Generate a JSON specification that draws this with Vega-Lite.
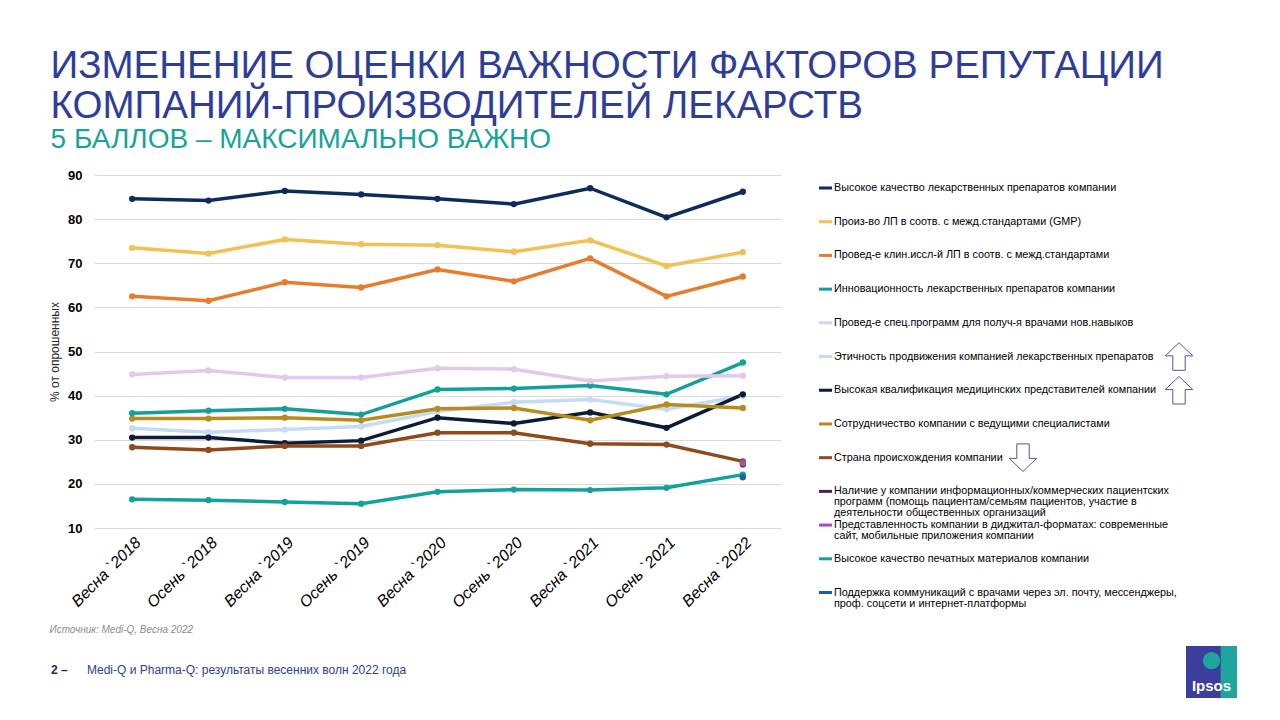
{
  "$schema": "https://vega.github.io/schema/vega-lite/v6.json",
  "background": "white",
  "padding": {"left": 48, "top": 47, "right": 0, "bottom": 0},
  "config": {"view": {"stroke": null}, "font": "Liberation Sans"},
  "title": {
    "text": ["ИЗМЕНЕНИЕ ОЦЕНКИ ВАЖНОСТИ ФАКТОРОВ РЕПУТАЦИИ", "КОМПАНИЙ-ПРОИЗВОДИТЕЛЕЙ ЛЕКАРСТВ"],
    "subtitle": "5 БАЛЛОВ – МАКСИМАЛЬНО ВАЖНО",
    "anchor": "start",
    "dx": 2,
    "font": "Liberation Sans",
    "fontSize": 38.5,
    "fontWeight": "normal",
    "color": "#2E3D98",
    "lineHeight": 39.5,
    "subtitleFont": "Liberation Sans",
    "subtitleFontSize": 28,
    "subtitleColor": "#17A398",
    "subtitlePadding": 0,
    "offset": 14
  },
  "datasets": {
    "points": [
      {"series": "Высокое качество лекарственных препаратов компании", "wave": "Весна `2018", "value": 84.6},
      {"series": "Высокое качество лекарственных препаратов компании", "wave": "Осень `2018", "value": 84.2},
      {"series": "Высокое качество лекарственных препаратов компании", "wave": "Весна `2019", "value": 86.4},
      {"series": "Высокое качество лекарственных препаратов компании", "wave": "Осень `2019", "value": 85.6},
      {"series": "Высокое качество лекарственных препаратов компании", "wave": "Весна `2020", "value": 84.6},
      {"series": "Высокое качество лекарственных препаратов компании", "wave": "Осень `2020", "value": 83.4},
      {"series": "Высокое качество лекарственных препаратов компании", "wave": "Весна `2021", "value": 87.0},
      {"series": "Высокое качество лекарственных препаратов компании", "wave": "Осень `2021", "value": 80.4},
      {"series": "Высокое качество лекарственных препаратов компании", "wave": "Весна `2022", "value": 86.2},
      {"series": "Произ-во ЛП в соотв. с межд.стандартами (GMP)", "wave": "Весна `2018", "value": 73.5},
      {"series": "Произ-во ЛП в соотв. с межд.стандартами (GMP)", "wave": "Осень `2018", "value": 72.2},
      {"series": "Произ-во ЛП в соотв. с межд.стандартами (GMP)", "wave": "Весна `2019", "value": 75.4},
      {"series": "Произ-во ЛП в соотв. с межд.стандартами (GMP)", "wave": "Осень `2019", "value": 74.3},
      {"series": "Произ-во ЛП в соотв. с межд.стандартами (GMP)", "wave": "Весна `2020", "value": 74.1},
      {"series": "Произ-во ЛП в соотв. с межд.стандартами (GMP)", "wave": "Осень `2020", "value": 72.6},
      {"series": "Произ-во ЛП в соотв. с межд.стандартами (GMP)", "wave": "Весна `2021", "value": 75.2},
      {"series": "Произ-во ЛП в соотв. с межд.стандартами (GMP)", "wave": "Осень `2021", "value": 69.4},
      {"series": "Произ-во ЛП в соотв. с межд.стандартами (GMP)", "wave": "Весна `2022", "value": 72.5},
      {"series": "Провед-е клин.иссл-й ЛП в соотв. с межд.стандартами", "wave": "Весна `2018", "value": 62.5},
      {"series": "Провед-е клин.иссл-й ЛП в соотв. с межд.стандартами", "wave": "Осень `2018", "value": 61.5},
      {"series": "Провед-е клин.иссл-й ЛП в соотв. с межд.стандартами", "wave": "Весна `2019", "value": 65.7},
      {"series": "Провед-е клин.иссл-й ЛП в соотв. с межд.стандартами", "wave": "Осень `2019", "value": 64.5},
      {"series": "Провед-е клин.иссл-й ЛП в соотв. с межд.стандартами", "wave": "Весна `2020", "value": 68.6},
      {"series": "Провед-е клин.иссл-й ЛП в соотв. с межд.стандартами", "wave": "Осень `2020", "value": 65.9},
      {"series": "Провед-е клин.иссл-й ЛП в соотв. с межд.стандартами", "wave": "Весна `2021", "value": 71.1},
      {"series": "Провед-е клин.иссл-й ЛП в соотв. с межд.стандартами", "wave": "Осень `2021", "value": 62.5},
      {"series": "Провед-е клин.иссл-й ЛП в соотв. с межд.стандартами", "wave": "Весна `2022", "value": 67.0},
      {"series": "Инновационность лекарственных препаратов компании", "wave": "Весна `2018", "value": 36.0},
      {"series": "Инновационность лекарственных препаратов компании", "wave": "Осень `2018", "value": 36.6},
      {"series": "Инновационность лекарственных препаратов компании", "wave": "Весна `2019", "value": 37.0},
      {"series": "Инновационность лекарственных препаратов компании", "wave": "Осень `2019", "value": 35.7},
      {"series": "Инновационность лекарственных препаратов компании", "wave": "Весна `2020", "value": 41.4},
      {"series": "Инновационность лекарственных препаратов компании", "wave": "Осень `2020", "value": 41.6},
      {"series": "Инновационность лекарственных препаратов компании", "wave": "Весна `2021", "value": 42.3},
      {"series": "Инновационность лекарственных препаратов компании", "wave": "Осень `2021", "value": 40.3},
      {"series": "Инновационность лекарственных препаратов компании", "wave": "Весна `2022", "value": 47.5},
      {"series": "Провед-е спец.программ для получ-я врачами нов.навыков", "wave": "Весна `2018", "value": 44.8},
      {"series": "Провед-е спец.программ для получ-я врачами нов.навыков", "wave": "Осень `2018", "value": 45.7},
      {"series": "Провед-е спец.программ для получ-я врачами нов.навыков", "wave": "Весна `2019", "value": 44.1},
      {"series": "Провед-е спец.программ для получ-я врачами нов.навыков", "wave": "Осень `2019", "value": 44.1},
      {"series": "Провед-е спец.программ для получ-я врачами нов.навыков", "wave": "Весна `2020", "value": 46.2},
      {"series": "Провед-е спец.программ для получ-я врачами нов.навыков", "wave": "Осень `2020", "value": 46.0},
      {"series": "Провед-е спец.программ для получ-я врачами нов.навыков", "wave": "Весна `2021", "value": 43.3},
      {"series": "Провед-е спец.программ для получ-я врачами нов.навыков", "wave": "Осень `2021", "value": 44.4},
      {"series": "Провед-е спец.программ для получ-я врачами нов.навыков", "wave": "Весна `2022", "value": 44.5},
      {"series": "Этичность продвижения компанией лекарственных препаратов", "wave": "Весна `2018", "value": 32.6},
      {"series": "Этичность продвижения компанией лекарственных препаратов", "wave": "Осень `2018", "value": 31.7},
      {"series": "Этичность продвижения компанией лекарственных препаратов", "wave": "Весна `2019", "value": 32.3},
      {"series": "Этичность продвижения компанией лекарственных препаратов", "wave": "Осень `2019", "value": 33.0},
      {"series": "Этичность продвижения компанией лекарственных препаратов", "wave": "Весна `2020", "value": 36.4},
      {"series": "Этичность продвижения компанией лекарственных препаратов", "wave": "Осень `2020", "value": 38.5},
      {"series": "Этичность продвижения компанией лекарственных препаратов", "wave": "Весна `2021", "value": 39.1},
      {"series": "Этичность продвижения компанией лекарственных препаратов", "wave": "Осень `2021", "value": 36.9},
      {"series": "Этичность продвижения компанией лекарственных препаратов", "wave": "Весна `2022", "value": 39.9},
      {"series": "Высокая квалификация медицинских представителей компании", "wave": "Весна `2018", "value": 30.5},
      {"series": "Высокая квалификация медицинских представителей компании", "wave": "Осень `2018", "value": 30.5},
      {"series": "Высокая квалификация медицинских представителей компании", "wave": "Весна `2019", "value": 29.2},
      {"series": "Высокая квалификация медицинских представителей компании", "wave": "Осень `2019", "value": 29.8},
      {"series": "Высокая квалификация медицинских представителей компании", "wave": "Весна `2020", "value": 35.0},
      {"series": "Высокая квалификация медицинских представителей компании", "wave": "Осень `2020", "value": 33.7},
      {"series": "Высокая квалификация медицинских представителей компании", "wave": "Весна `2021", "value": 36.2},
      {"series": "Высокая квалификация медицинских представителей компании", "wave": "Осень `2021", "value": 32.7},
      {"series": "Высокая квалификация медицинских представителей компании", "wave": "Весна `2022", "value": 40.3},
      {"series": "Сотрудничество компании с ведущими специалистами", "wave": "Весна `2018", "value": 34.8},
      {"series": "Сотрудничество компании с ведущими специалистами", "wave": "Осень `2018", "value": 34.8},
      {"series": "Сотрудничество компании с ведущими специалистами", "wave": "Весна `2019", "value": 35.0},
      {"series": "Сотрудничество компании с ведущими специалистами", "wave": "Осень `2019", "value": 34.4},
      {"series": "Сотрудничество компании с ведущими специалистами", "wave": "Весна `2020", "value": 37.0},
      {"series": "Сотрудничество компании с ведущими специалистами", "wave": "Осень `2020", "value": 37.2},
      {"series": "Сотрудничество компании с ведущими специалистами", "wave": "Весна `2021", "value": 34.4},
      {"series": "Сотрудничество компании с ведущими специалистами", "wave": "Осень `2021", "value": 38.0},
      {"series": "Сотрудничество компании с ведущими специалистами", "wave": "Весна `2022", "value": 37.2},
      {"series": "Страна происхождения компании", "wave": "Весна `2018", "value": 28.3},
      {"series": "Страна происхождения компании", "wave": "Осень `2018", "value": 27.7},
      {"series": "Страна происхождения компании", "wave": "Весна `2019", "value": 28.6},
      {"series": "Страна происхождения компании", "wave": "Осень `2019", "value": 28.6},
      {"series": "Страна происхождения компании", "wave": "Весна `2020", "value": 31.6},
      {"series": "Страна происхождения компании", "wave": "Осень `2020", "value": 31.6},
      {"series": "Страна происхождения компании", "wave": "Весна `2021", "value": 29.1},
      {"series": "Страна происхождения компании", "wave": "Осень `2021", "value": 28.9},
      {"series": "Страна происхождения компании", "wave": "Весна `2022", "value": 25.1},
      {"series": "Наличие у компании информационных/коммерческих пациентских программ", "wave": "Весна `2022", "value": 24.4},
      {"series": "Представленность компании в диджитал-форматах", "wave": "Весна `2022", "value": 24.7},
      {"series": "Высокое качество печатных материалов компании", "wave": "Весна `2018", "value": 16.5},
      {"series": "Высокое качество печатных материалов компании", "wave": "Осень `2018", "value": 16.3},
      {"series": "Высокое качество печатных материалов компании", "wave": "Весна `2019", "value": 15.9},
      {"series": "Высокое качество печатных материалов компании", "wave": "Осень `2019", "value": 15.5},
      {"series": "Высокое качество печатных материалов компании", "wave": "Весна `2020", "value": 18.2},
      {"series": "Высокое качество печатных материалов компании", "wave": "Осень `2020", "value": 18.7},
      {"series": "Высокое качество печатных материалов компании", "wave": "Весна `2021", "value": 18.6},
      {"series": "Высокое качество печатных материалов компании", "wave": "Осень `2021", "value": 19.1},
      {"series": "Высокое качество печатных материалов компании", "wave": "Весна `2022", "value": 22.1},
      {"series": "Поддержка коммуникаций с врачами", "wave": "Весна `2022", "value": 21.5}
    ],
    "legend": [
      {"series": "Высокое качество лекарственных препаратов компании", "label": "Высокое качество лекарственных препаратов компании"},
      {"series": "Произ-во ЛП в соотв. с межд.стандартами (GMP)", "label": "Произ-во ЛП в соотв. с межд.стандартами (GMP)"},
      {"series": "Провед-е клин.иссл-й ЛП в соотв. с межд.стандартами", "label": "Провед-е клин.иссл-й ЛП в соотв. с межд.стандартами"},
      {"series": "Инновационность лекарственных препаратов компании", "label": "Инновационность лекарственных препаратов компании"},
      {"series": "Провед-е спец.программ для получ-я врачами нов.навыков", "label": "Провед-е спец.программ для получ-я врачами нов.навыков"},
      {"series": "Этичность продвижения компанией лекарственных препаратов", "label": "Этичность продвижения компанией лекарственных препаратов", "trend": "up"},
      {"series": "Высокая квалификация медицинских представителей компании", "label": "Высокая квалификация медицинских представителей компании", "trend": "up"},
      {"series": "Сотрудничество компании с ведущими специалистами", "label": "Сотрудничество компании с ведущими специалистами"},
      {"series": "Страна происхождения компании", "label": "Страна происхождения компании", "trend": "down"},
      {"series": "Наличие у компании информационных/коммерческих пациентских программ", "label": "Наличие у компании информационных/коммерческих пациентских\nпрограмм (помощь пациентам/семьям пациентов, участие в\nдеятельности общественных организаций"},
      {"series": "Представленность компании в диджитал-форматах", "label": "Представленность компании в диджитал-форматах: современные\nсайт, мобильные приложения компании"},
      {"series": "Высокое качество печатных материалов компании", "label": "Высокое качество печатных материалов компании"},
      {"series": "Поддержка коммуникаций с врачами", "label": "Поддержка коммуникаций с врачами через эл. почту, мессенджеры,\nпроф. соцсети и интернет-платформы"}
    ]
  },
  "vconcat": [
    {
      "hconcat": [
        {
          "width": 687,
          "height": 353,
          "data": {"name": "points"},
          "encoding": {
            "x": {
              "field": "wave", "type": "nominal",
              "scale": {"type": "point", "padding": 0.5, "domain": ["Весна `2018", "Осень `2018", "Весна `2019", "Осень `2019", "Весна `2020", "Осень `2020", "Весна `2021", "Осень `2021", "Весна `2022"]},
              "axis": {
                "title": "Источник: Medi-Q, Весна 2022",
                "titleFontStyle": "italic", "titleFontWeight": "normal", "titleFontSize": 10, "titleColor": "#8C8C8C",
                "titleAnchor": "start", "titleX": -45, "titlePadding": 14,
                "labelAngle": -45, "labelFontStyle": "italic", "labelFontSize": 16, "labelColor": "#000000",
                "labelPadding": 6, "ticks": false, "domain": false, "grid": false
              }
            },
            "y": {
              "field": "value", "type": "quantitative",
              "scale": {"domain": [10, 90], "nice": false, "zero": false},
              "axis": {
                "values": [10, 20, 30, 40, 50, 60, 70, 80, 90],
                "title": "% от опрошенных", "titleFontWeight": "normal", "titleFontSize": 12, "titleColor": "#262626", "titlePadding": 6,
                "labelFontWeight": "bold", "labelFontSize": 13, "labelColor": "#000000", "labelPadding": 12,
                "ticks": false, "domain": false, "gridColor": "#D9D9D9", "gridWidth": 1
              }
            },
            "color": {
              "field": "series", "type": "nominal", "legend": null,
              "scale": {
                "domain": ["Высокое качество лекарственных препаратов компании", "Произ-во ЛП в соотв. с межд.стандартами (GMP)", "Провед-е клин.иссл-й ЛП в соотв. с межд.стандартами", "Инновационность лекарственных препаратов компании", "Провед-е спец.программ для получ-я врачами нов.навыков", "Этичность продвижения компанией лекарственных препаратов", "Высокая квалификация медицинских представителей компании", "Сотрудничество компании с ведущими специалистами", "Страна происхождения компании", "Наличие у компании информационных/коммерческих пациентских программ", "Представленность компании в диджитал-форматах", "Высокое качество печатных материалов компании", "Поддержка коммуникаций с врачами"],
                "range": ["#0D2B5E", "#F2C153", "#E87B2C", "#12A09A", "#E3C8EA", "#C5DBF3", "#0B1C38", "#B88B1E", "#8E4A1B", "#4C2357", "#A052B8", "#13A29B", "#1F5EAD"]
              }
            }
          },
          "layer": [
            {"mark": {"type": "line", "strokeWidth": 3.5}},
            {"mark": {"type": "circle", "size": 40, "opacity": 1}}
          ]
        },
        {
          "width": 380,
          "height": 353,
          "data": {"name": "legend"},
          "encoding": {
            "y": {"field": "series", "type": "nominal", "sort": null, "scale": {"type": "point", "padding": 0, "range": [13, 417.5]}, "axis": null}
          },
          "layer": [
            {
              "mark": {"type": "rule", "strokeWidth": 3},
              "encoding": {
                "x": {"value": 0}, "x2": {"value": 13},
                "color": {
                  "field": "series", "type": "nominal", "legend": null,
                  "scale": {
                    "domain": ["Высокое качество лекарственных препаратов компании", "Произ-во ЛП в соотв. с межд.стандартами (GMP)", "Провед-е клин.иссл-й ЛП в соотв. с межд.стандартами", "Инновационность лекарственных препаратов компании", "Провед-е спец.программ для получ-я врачами нов.навыков", "Этичность продвижения компанией лекарственных препаратов", "Высокая квалификация медицинских представителей компании", "Сотрудничество компании с ведущими специалистами", "Страна происхождения компании", "Наличие у компании информационных/коммерческих пациентских программ", "Представленность компании в диджитал-форматах", "Высокое качество печатных материалов компании", "Поддержка коммуникаций с врачами"],
                    "range": ["#0D2B5E", "#F2C153", "#E87B2C", "#12A09A", "#E3C8EA", "#C5DBF3", "#0B1C38", "#B88B1E", "#8E4A1B", "#4C2357", "#A052B8", "#13A29B", "#1F5EAD"]
                  }
                }
              }
            },
            {
              "mark": {"type": "text", "align": "left", "baseline": "top", "dy": -6, "lineBreak": "\n", "lineHeight": 11, "fontSize": 10.8, "color": "#000000"},
              "encoding": {"x": {"value": 15}, "text": {"field": "label"}}
            },
            {
              "transform": [{"filter": "datum.trend === 'up'"}],
              "mark": {"type": "point", "filled": true, "color": "#FFFFFF", "stroke": "#4E58A5", "strokeWidth": 1, "opacity": 1,
                       "shape": "M0,-1L1,-0.05L0.45,-0.05L0.45,1L-0.45,1L-0.45,-0.05L-1,-0.05Z", "size": 760},
              "encoding": {"x": {"value": 360}}
            },
            {
              "transform": [{"filter": "datum.trend === 'down'"}],
              "mark": {"type": "point", "filled": true, "color": "#FFFFFF", "stroke": "#4E58A5", "strokeWidth": 1, "opacity": 1,
                       "shape": "M-0.45,-1L0.45,-1L0.45,0.05L1,0.05L0,1L-1,0.05L-0.45,0.05Z", "size": 760},
              "encoding": {"x": {"value": 204}}
            }
          ]
        }
      ],
      "spacing": 38,
      "bounds": "flush"
    },
    {
      "hconcat": [
        {
          "width": 1092,
          "height": 52,
          "data": {"values": [{}]},
          "layer": [
            {"mark": {"type": "text", "text": "2 –", "align": "left", "baseline": "middle", "fontWeight": "bold", "fontSize": 12, "color": "#1E2A6E"},
             "encoding": {"x": {"value": -43}, "y": {"value": 24}}},
            {"mark": {"type": "text", "text": "Medi-Q и Pharma-Q: результаты весенних волн 2022 года", "align": "left", "baseline": "middle", "fontSize": 12, "color": "#2E3D98"},
             "encoding": {"x": {"value": -7}, "y": {"value": 24}}}
          ]
        },
        {
          "width": 51,
          "height": 52,
          "view": {"fill": "#3B3E9B", "stroke": null},
          "data": {"values": [{}]},
          "layer": [
            {"mark": {"type": "rect", "color": "#1FA59C"},
             "encoding": {
               "x": {"datum": 0.68, "type": "quantitative", "scale": {"domain": [0, 1], "nice": false}, "axis": null},
               "x2": {"datum": 1},
               "y": {"datum": 0, "type": "quantitative", "scale": {"domain": [0, 1], "nice": false}, "axis": null},
               "y2": {"datum": 1}}},
            {"mark": {"type": "circle", "color": "#1FA59C", "opacity": 1, "size": 300},
             "encoding": {"x": {"datum": 0.5, "type": "quantitative", "axis": null}, "y": {"datum": 0.72, "type": "quantitative", "axis": null}}},
            {"mark": {"type": "text", "text": "Ipsos", "color": "#FFFFFF", "fontWeight": "bold", "fontSize": 15},
             "encoding": {"x": {"datum": 0.5, "type": "quantitative", "axis": null}, "y": {"datum": 0.24, "type": "quantitative", "axis": null}}}
          ]
        }
      ],
      "spacing": 0
    }
  ],
  "spacing": 11
}
